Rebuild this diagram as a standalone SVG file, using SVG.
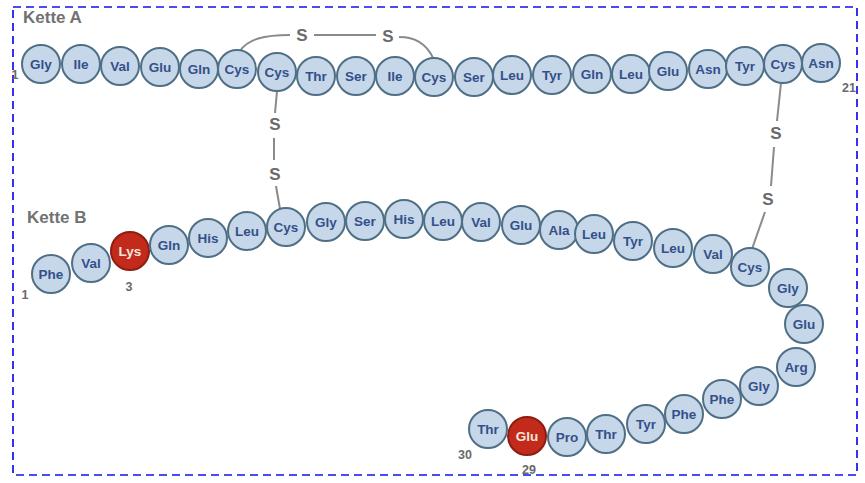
<svg xmlns="http://www.w3.org/2000/svg" width="865" height="483" viewBox="0 0 865 483">
<style>
.r circle{fill:#c6d7e9;stroke:#4f6f86;stroke-width:2}
.r text{font-family:"Liberation Sans",Arial,sans-serif;font-size:13.5px;font-weight:bold;fill:#34508a;text-anchor:middle}
.m circle{fill:#c22a1c;stroke:#8e1d12;stroke-width:2}
.m text{fill:#f6e6dc}
.bond{fill:none;stroke:#8a8a8a;stroke-width:2}
.s{font-family:"Liberation Sans",Arial,sans-serif;font-size:17px;font-weight:bold;fill:#6a6a6a;text-anchor:middle}
.lbl{font-family:"Liberation Sans",Arial,sans-serif;font-size:17px;font-weight:bold;fill:#727272}
.num{font-family:"Liberation Sans",Arial,sans-serif;font-size:12.5px;font-weight:bold;fill:#6a6a6a;text-anchor:middle}
</style>
<rect x="13" y="7" width="844" height="468" fill="none" stroke="#1010ee" stroke-width="1.7" stroke-dasharray="8 5"/>
<text class="lbl" x="23" y="23">Kette A</text>
<text class="lbl" x="27" y="223">Kette B</text>
<text class="num" x="15" y="79">1</text>
<text class="num" x="849" y="92">21</text>
<text class="num" x="25" y="299">1</text>
<text class="num" x="129" y="291">3</text>
<text class="num" x="465" y="459">30</text>
<text class="num" x="529" y="474">29</text>
<g id="connectors">
<path class="bond" d="M240,51 C248,39 264,35 290,35"/>
<path class="bond" d="M314,35 L376,35"/>
<path class="bond" d="M399,37 C419,37 428,47 433,58"/>
<path class="bond" d="M277,91 L275,113"/>
<path class="bond" d="M274,138 L274,160"/>
<path class="bond" d="M276,186 L280,209"/>
<path class="bond" d="M781,83 L777,121"/>
<path class="bond" d="M774,147 L771,186"/>
<path class="bond" d="M765,212 L752,249"/>
<text class="s" x="302" y="41">S</text>
<text class="s" x="388" y="42">S</text>
<text class="s" x="275" y="130">S</text>
<text class="s" x="275" y="180">S</text>
<text class="s" x="776" y="139">S</text>
<text class="s" x="768" y="205">S</text>
</g>
<g id="A1" class="r"><circle cx="41" cy="64" r="19"/><text x="41" y="69">Gly</text></g>
<g id="A2" class="r"><circle cx="81" cy="64" r="19"/><text x="81" y="69">Ile</text></g>
<g id="A3" class="r"><circle cx="120" cy="66" r="19"/><text x="120" y="71">Val</text></g>
<g id="A4" class="r"><circle cx="160" cy="67" r="19"/><text x="160" y="72">Glu</text></g>
<g id="A5" class="r"><circle cx="199" cy="69" r="19"/><text x="199" y="74">Gln</text></g>
<g id="A6" class="r"><circle cx="237" cy="69" r="19"/><text x="237" y="74">Cys</text></g>
<g id="A7" class="r"><circle cx="277" cy="72" r="19"/><text x="277" y="77">Cys</text></g>
<g id="A8" class="r"><circle cx="316" cy="76" r="19"/><text x="316" y="81">Thr</text></g>
<g id="A9" class="r"><circle cx="356" cy="76" r="19"/><text x="356" y="81">Ser</text></g>
<g id="A10" class="r"><circle cx="395" cy="76" r="19"/><text x="395" y="81">Ile</text></g>
<g id="A11" class="r"><circle cx="434" cy="77" r="19"/><text x="434" y="82">Cys</text></g>
<g id="A12" class="r"><circle cx="474" cy="77" r="19"/><text x="474" y="82">Ser</text></g>
<g id="A13" class="r"><circle cx="512" cy="75" r="19"/><text x="512" y="80">Leu</text></g>
<g id="A14" class="r"><circle cx="552" cy="75" r="19"/><text x="552" y="80">Tyr</text></g>
<g id="A15" class="r"><circle cx="592" cy="74" r="19"/><text x="592" y="79">Gln</text></g>
<g id="A16" class="r"><circle cx="631" cy="74" r="19"/><text x="631" y="79">Leu</text></g>
<g id="A17" class="r"><circle cx="668" cy="71" r="19"/><text x="668" y="76">Glu</text></g>
<g id="A18" class="r"><circle cx="708" cy="69" r="19"/><text x="708" y="74">Asn</text></g>
<g id="A19" class="r"><circle cx="745" cy="66" r="19"/><text x="745" y="71">Tyr</text></g>
<g id="A20" class="r"><circle cx="783" cy="64" r="19"/><text x="783" y="69">Cys</text></g>
<g id="A21" class="r"><circle cx="821" cy="63" r="19"/><text x="821" y="68">Asn</text></g>
<g id="B1" class="r"><circle cx="51" cy="274" r="19"/><text x="51" y="279">Phe</text></g>
<g id="B2" class="r"><circle cx="91" cy="263" r="19"/><text x="91" y="268">Val</text></g>
<g id="B3" class="r m"><circle cx="130" cy="251" r="19"/><text x="130" y="256">Lys</text></g>
<g id="B4" class="r"><circle cx="169" cy="245" r="19"/><text x="169" y="250">Gln</text></g>
<g id="B5" class="r"><circle cx="208" cy="238" r="19"/><text x="208" y="243">His</text></g>
<g id="B6" class="r"><circle cx="247" cy="231" r="19"/><text x="247" y="236">Leu</text></g>
<g id="B7" class="r"><circle cx="286" cy="227" r="19"/><text x="286" y="232">Cys</text></g>
<g id="B8" class="r"><circle cx="326" cy="222" r="19"/><text x="326" y="227">Gly</text></g>
<g id="B9" class="r"><circle cx="365" cy="221" r="19"/><text x="365" y="226">Ser</text></g>
<g id="B10" class="r"><circle cx="404" cy="219" r="19"/><text x="404" y="224">His</text></g>
<g id="B11" class="r"><circle cx="443" cy="221" r="19"/><text x="443" y="226">Leu</text></g>
<g id="B12" class="r"><circle cx="481" cy="222" r="19"/><text x="481" y="227">Val</text></g>
<g id="B13" class="r"><circle cx="521" cy="225" r="19"/><text x="521" y="230">Glu</text></g>
<g id="B14" class="r"><circle cx="559" cy="230" r="19"/><text x="559" y="235">Ala</text></g>
<g id="B15" class="r"><circle cx="594" cy="234" r="19"/><text x="594" y="239">Leu</text></g>
<g id="B16" class="r"><circle cx="633" cy="241" r="19"/><text x="633" y="246">Tyr</text></g>
<g id="B17" class="r"><circle cx="673" cy="248" r="19"/><text x="673" y="253">Leu</text></g>
<g id="B18" class="r"><circle cx="713" cy="254" r="19"/><text x="713" y="259">Val</text></g>
<g id="B19" class="r"><circle cx="750" cy="267" r="19"/><text x="750" y="272">Cys</text></g>
<g id="B20" class="r"><circle cx="788" cy="288" r="19"/><text x="788" y="293">Gly</text></g>
<g id="B21" class="r"><circle cx="804" cy="324" r="19"/><text x="804" y="329">Glu</text></g>
<g id="B22" class="r"><circle cx="796" cy="367" r="19"/><text x="796" y="372">Arg</text></g>
<g id="B23" class="r"><circle cx="759" cy="386" r="19"/><text x="759" y="391">Gly</text></g>
<g id="B24" class="r"><circle cx="722" cy="399" r="19"/><text x="722" y="404">Phe</text></g>
<g id="B25" class="r"><circle cx="684" cy="414" r="19"/><text x="684" y="419">Phe</text></g>
<g id="B26" class="r"><circle cx="646" cy="424" r="19"/><text x="646" y="429">Tyr</text></g>
<g id="B27" class="r"><circle cx="606" cy="434" r="19"/><text x="606" y="439">Thr</text></g>
<g id="B28" class="r"><circle cx="567" cy="437" r="19"/><text x="567" y="442">Pro</text></g>
<g id="B29" class="r m"><circle cx="527" cy="436" r="19"/><text x="527" y="441">Glu</text></g>
<g id="B30" class="r"><circle cx="488" cy="429" r="19"/><text x="488" y="434">Thr</text></g>
</svg>
